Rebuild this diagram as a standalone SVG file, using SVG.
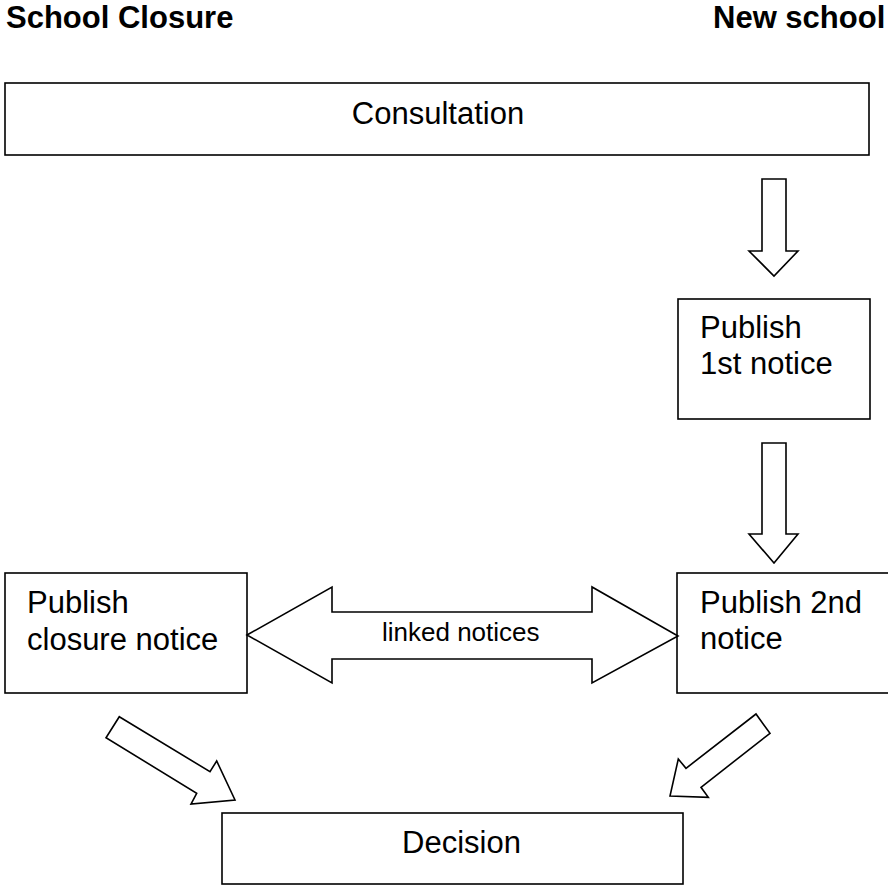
<svg xmlns="http://www.w3.org/2000/svg" width="888" height="885" viewBox="0 0 888 885">
<style>
.box{fill:#fff;stroke:#000;stroke-width:1.6}
.arr{fill:#fff;stroke:#000;stroke-width:1.6;stroke-linejoin:miter}
.t{font-family:"Liberation Sans",Arial,sans-serif;font-size:31px;fill:#000}
.h{font-family:"Liberation Sans",Arial,sans-serif;font-size:31px;font-weight:bold;fill:#000}
.s{font-family:"Liberation Sans",Arial,sans-serif;font-size:26px;fill:#000}
</style>
<rect width="888" height="885" fill="#fff"/>
<g id="headers">
<text class="h" x="6" y="28">School Closure</text>
<text class="h" x="713" y="28">New school</text>
</g>
<g id="consultation">
<rect class="box" x="5" y="83" width="864" height="72"/>
<text class="t" x="438" y="124" text-anchor="middle">Consultation</text>
</g>
<g id="publish1">
<rect class="box" x="678" y="299" width="192" height="120"/>
<text class="t" x="700" y="338">Publish</text>
<text class="t" x="700" y="374">1st notice</text>
</g>
<g id="publish2">
<rect class="box" x="677" y="573" width="215" height="120"/>
<text class="t" x="700" y="613">Publish 2nd</text>
<text class="t" x="700" y="649">notice</text>
</g>
<g id="closure">
<rect class="box" x="5" y="573" width="242" height="120"/>
<text class="t" x="27" y="613">Publish</text>
<text class="t" x="27" y="650">closure notice</text>
</g>
<g id="decision">
<rect class="box" x="222" y="813" width="461" height="71"/>
<text class="t" x="402" y="853">Decision</text>
</g>
<g id="connectors">
<polygon class="arr" points="762,179 786,179 786,251 798,251 774,276 749,251 762,251"/>
<polygon class="arr" points="762,443 786,443 786,534 798,534 774,563 749,534 762,534"/>
<polygon class="arr" points="247,635 332,587 332,612 592,612 592,587 678,636 592,683 592,659 332,659 332,683"/>
<text class="s" x="382" y="641">linked notices</text>
<polygon class="arr" points="119.3,716.7 210,771.7 216.7,761 235,800 191,804 196.7,793.3 106,737.7"/>
<polygon class="arr" points="756,714 686,768.3 678.3,759 670,796 708.3,797.3 701,787.3 770,733.3"/>
</g>
</svg>
